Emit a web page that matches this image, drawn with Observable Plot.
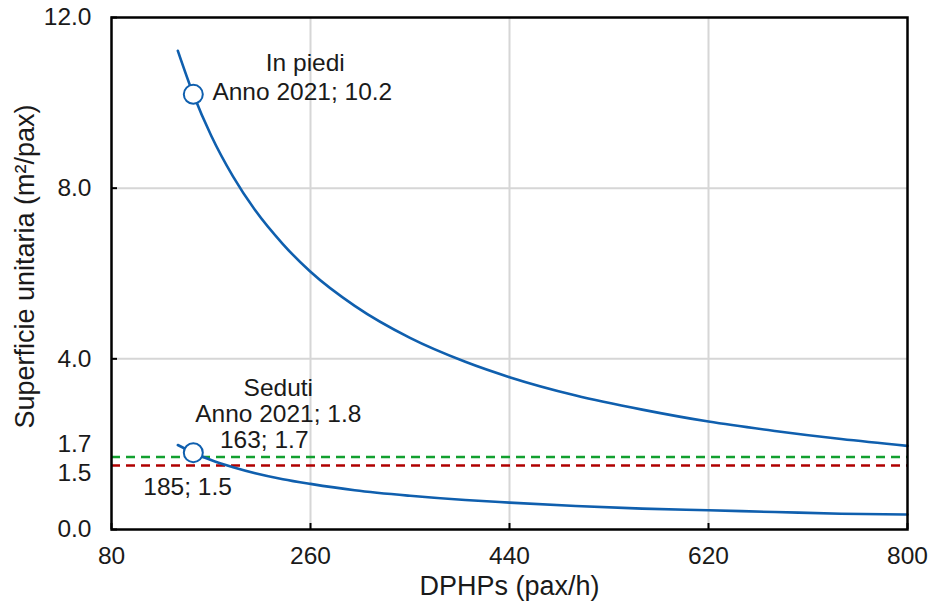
<!DOCTYPE html>
<html>
<head>
<meta charset="utf-8">
<script src="https://cdn.jsdelivr.net/npm/d3@7"></script>
<script src="https://cdn.jsdelivr.net/npm/@observablehq/plot@0.6"></script>
<style>
  html, body { margin: 0; padding: 0; background: #fff; }
  #chart svg { display: block; }
</style>
</head>
<body>
<div id="chart"></div>
<script>
// ---- data ----
const dphp     = [140, 154, 170, 190, 210, 235, 260, 300, 350, 400, 440, 500, 560, 620, 680, 740, 800];
const inPiedi  = [11.22, 10.2, 9.24, 8.27, 7.48, 6.69, 6.04, 5.24, 4.49, 3.93, 3.57, 3.14, 2.81, 2.53, 2.31, 2.12, 1.96];
const seduti   = [1.98, 1.80, 1.63, 1.46, 1.32, 1.18, 1.07, 0.92, 0.79, 0.69, 0.63, 0.55, 0.49, 0.45, 0.41, 0.37, 0.35];

const seriesNames = ["In piedi", "Seduti"];
const markerX = [154, 154];
const markerY = [10.2, 1.8];
const markerYear = "Anno 2021";

const thresholds = [1.7, 1.5];
const thresholdX = [163, 185];

const xTicks = [80, 260, 440, 620, 800];
const yTicks = [0, 4, 8, 12];
const xLabel = "DPHPs (pax/h)";
const yLabel = "Superficie unitaria (m\u00B2/pax)";

// ---- build tables ----
const piediData = dphp.map((x, i) => ({x, y: inPiedi[i]}));
const sedutiData = dphp.map((x, i) => ({x, y: seduti[i]}));
const markers = markerX.map((x, i) => ({x, y: markerY[i], name: seriesNames[i]}));

const blue = "#0f5fae";
const green = "#12a02f";
const red = "#b00000";
const fs = 24.5;
const fsTitle = 27;

const chart = Plot.plot({
  width: 932,
  height: 612,
  marginLeft: 111,
  marginRight: 25,
  marginTop: 17,
  marginBottom: 83,
  x: {domain: [80, 800]},
  y: {domain: [0, 12]},
  style: {fontFamily: "'Liberation Sans', Arial, sans-serif", fontSize: fs + "px", color: "#1a1a1a", background: "#fff"},
  marks: [
    Plot.gridX([260, 440, 620], {stroke: "#d6d6d6", strokeOpacity: 1, strokeWidth: 2}),
    Plot.gridY([4, 8], {stroke: "#d6d6d6", strokeOpacity: 1, strokeWidth: 2}),
    Plot.ruleY([thresholds[0]], {stroke: green, strokeWidth: 2.5, strokeDasharray: "9,6"}),
    Plot.ruleY([thresholds[1]], {stroke: red, strokeWidth: 2.5, strokeDasharray: "9,6"}),
    Plot.line(piediData, {x: "x", y: "y", stroke: blue, strokeWidth: 2.6, curve: "monotone-x"}),
    Plot.line(sedutiData, {x: "x", y: "y", stroke: blue, strokeWidth: 2.6, curve: "monotone-x"}),
    Plot.dot(markers, {x: "x", y: "y", r: 9.5, fill: "white", stroke: blue, strokeWidth: 2}),
    // inward tick marks
    Plot.tickX(xTicks, {x: d => d, stroke: "#000", strokeWidth: 2, insetTop: 506}),
    Plot.tickY(yTicks, {y: d => d, stroke: "#000", strokeWidth: 2, insetRight: 790}),
    Plot.axisX(xTicks, {tickSize: 0, tickPadding: 17, label: null, fontSize: fs}),
    Plot.axisY(yTicks, {tickSize: 0, tickPadding: 20, label: null, tickFormat: d => d.toFixed(1), fontSize: fs}),
    // extra y labels for thresholds
    Plot.text([thresholds[0]], {y: d => d, text: d => d.toFixed(1), frameAnchor: "left", textAnchor: "end", dx: -20, dy: -13, fontSize: fs}),
    Plot.text([thresholds[1]], {y: d => d, text: d => d.toFixed(1), frameAnchor: "left", textAnchor: "end", dx: -20, dy: 8, fontSize: fs}),
    Plot.frame({stroke: "#000", strokeWidth: 2.5}),
    // annotations
    Plot.text([markers[0]], {x: "x", y: "y", text: d => d.name, dx: 112, dy: -31, fontSize: fs}),
    Plot.text([markers[0]], {x: "x", y: "y", text: d => `${markerYear}; ${d.y.toFixed(1)}`, dx: 109, dy: -2, fontSize: fs}),
    Plot.text([markers[1]], {x: "x", y: "y", text: d => d.name, dx: 85, dy: -65, fontSize: fs}),
    Plot.text([markers[1]], {x: "x", y: "y", text: d => `${markerYear}; ${d.y.toFixed(1)}`, dx: 85, dy: -39, fontSize: fs}),
    Plot.text([{x: thresholdX[0], y: thresholds[0]}], {x: "x", y: "y", text: d => `${d.x}; ${d.y.toFixed(1)}`, dx: 61, dy: -17, fontSize: fs}),
    Plot.text([{x: thresholdX[1], y: thresholds[1]}], {x: "x", y: "y", text: d => `${d.x}; ${d.y.toFixed(1)}`, dx: -40, dy: 22, fontSize: fs}),
    // axis titles
    Plot.text([xLabel], {text: d => d, frameAnchor: "bottom", textAnchor: "middle", lineAnchor: "middle", dy: 57, fontSize: fsTitle}),
    Plot.text([yLabel], {text: d => d, frameAnchor: "left", textAnchor: "middle", lineAnchor: "middle", rotate: -90, dx: -86, dy: -7, fontSize: fsTitle})
  ]
});

document.getElementById("chart").appendChild(chart);
</script>
</body>
</html>
